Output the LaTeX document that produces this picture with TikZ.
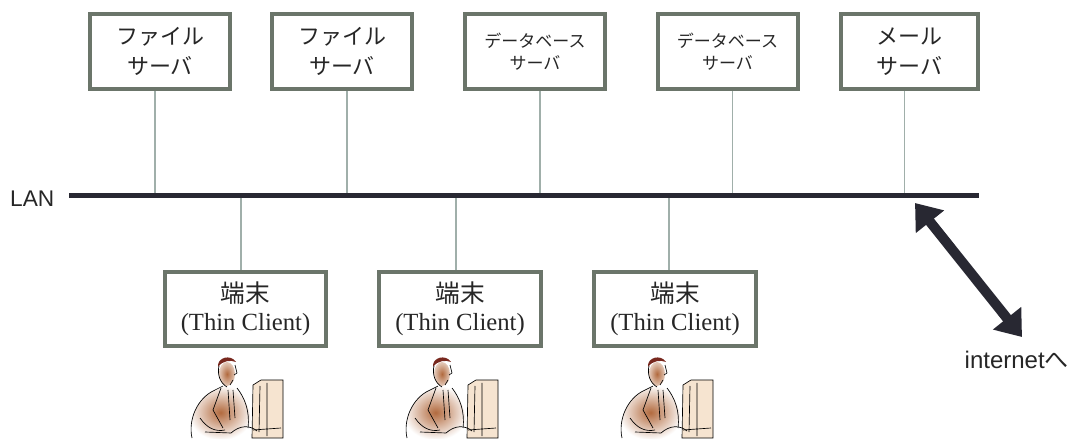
\documentclass[tikz,border=0pt]{standalone}
\usepackage{fontspec}
\setmainfont{Liberation Sans}
\newfontfamily\jpfont{Noto Sans CJK JP}
\newfontfamily\romanfont{Liberation Serif}
\usetikzlibrary{arrows.meta}

\definecolor{boxgray}{RGB}{107,117,106}
\definecolor{linkgray}{RGB}{160,175,170}
\definecolor{lanblack}{RGB}{40,40,50}
\definecolor{skin}{RGB}{178,106,62}
\definecolor{hair}{RGB}{120,40,30}
\definecolor{screen}{RGB}{246,228,208}

\tikzset{
  server/.style={draw=boxgray, line width=3pt, fill=white, minimum width=105pt,
    minimum height=56pt, inner sep=0pt, align=center, text=black!85,
    font=\jpfont\fontsize{16.5}{22.5}\selectfont},
  smallserver/.style={server, font=\jpfont\fontsize{12.75}{16.5}\selectfont},
  client/.style={server, minimum width=121pt, minimum height=55.5pt,
    font=\fontsize{18.5}{21}\selectfont},
  link/.style={draw=linkgray, line width=0.8pt},
}

\begin{document}
\begin{tikzpicture}[x=0.75pt, y=-0.75pt]
\useasboundingbox (0,0) rectangle (1074,441);

\node[server] (fs1) at (160,51.5) {ファイル\\サーバ};
\node[server] (fs2) at (342,51.5) {ファイル\\サーバ};
\node[smallserver] (db1) at (535,51.5) {データベース\\サーバ};
\node[smallserver] (db2) at (727.5,51.5) {データベース\\サーバ};
\node[server, minimum width=102.75pt] (mail) at (909.5,51.5) {メール\\サーバ};

\node[client] (pc1) at (245.5,309) {{\jpfont 端末}\\{\romanfont (Thin Client)}};
\node[client] (pc2) at (460,309) {{\jpfont 端末}\\{\romanfont (Thin Client)}};
\node[client] (pc3) at (675,309) {{\jpfont 端末}\\{\romanfont (Thin Client)}};

\coordinate (lanW) at (69,196);
\coordinate (lanE) at (979,196);
\node[anchor=east, text=black!85, font=\fontsize{17}{17}\selectfont] (lan) at (59,199) {LAN};

\draw[link] ([xshift=-3.75pt]fs1.south) -- ([xshift=-3.75pt]fs1.south |- lanW);
\draw[link] ([xshift=3.75pt]fs2.south) -- ([xshift=3.75pt]fs2.south |- lanW);
\draw[link] ([xshift=3.75pt]db1.south) -- ([xshift=3.75pt]db1.south |- lanW);
\draw[link] ([xshift=4pt]db2.south) -- ([xshift=4pt]db2.south |- lanW);
\draw[link] ([xshift=-3.5pt]mail.south) -- ([xshift=-3.5pt]mail.south |- lanW);
\draw[link] ([xshift=-3.4pt]pc1.north |- lanW) -- ([xshift=-3.4pt]pc1.north);
\draw[link] ([xshift=-3pt]pc2.north |- lanW) -- ([xshift=-3pt]pc2.north);
\draw[link] ([xshift=-4.5pt]pc3.north |- lanW) -- ([xshift=-4.5pt]pc3.north);

\draw[lanblack, line width=3.75pt] (lanW) -- (lanE);

% to the outside
\coordinate (netA) at (915,203);
\coordinate (netB) at (1022,337);
\draw[lanblack, line width=7.5pt, {Triangle[width=26pt,length=18pt]}-{Triangle[width=26pt,length=18pt]}] (netA) -- (netB);
\node[anchor=west, text=black!85, font=\fontsize{18}{18}\selectfont] (inet) at (960,360) {internet{\jpfont へ}};

% user at each terminal
\foreach \cx in {245,460,675} {
\begin{scope}[shift={(\cx,0)}, line width=0.5pt]
  \filldraw[fill=screen, draw=black] (8,385) -- (16,380) -- (38,380) -- (38,438) -- (7,438) -- cycle;
  \draw (15,386) -- (14,432) (22,383) -- (22,436) (8,430) -- (36,428);
  \shade[inner color=skin, outer color=white] (-53,438) .. controls (-57,420) and (-48,398) .. (-30,390)
    -- (-20,385) -- (-8,388) .. controls (0,398) and (8,415) .. (6,432) -- (-5,440) -- cycle;
  \shade[inner color=skin, outer color=skin!35!white] (-18,374) ellipse [x radius=8, y radius=12];
  \fill[hair] (-27,367) .. controls (-28,357) and (-14,354) .. (-9,362)
    .. controls (-14,360) and (-22,360) .. (-27,367) -- cycle;
  \draw (-26,366) .. controls (-28,374) and (-25,383) .. (-18,387);
  \draw (-10,365) -- (-8,373) -- (-11,375) (-12,380) -- (-15,385);
  \draw (-53,438) .. controls (-57,420) and (-48,398) .. (-30,390) -- (-22,386);
  \draw (-24,388) -- (-32,410) -- (-22,428) (-17,390) -- (-15,420) (-12,390) -- (-10,418);
  \draw (-8,388) .. controls (0,398) and (5,412) .. (3,428);
  \draw (-40,432) -- (-14,433) .. controls (-5,425) and (5,425) .. (12,431);
  \draw (-45,418) .. controls (-38,428) and (-30,432) .. (-20,430);
\end{scope}
}
\end{tikzpicture}
\end{document}
